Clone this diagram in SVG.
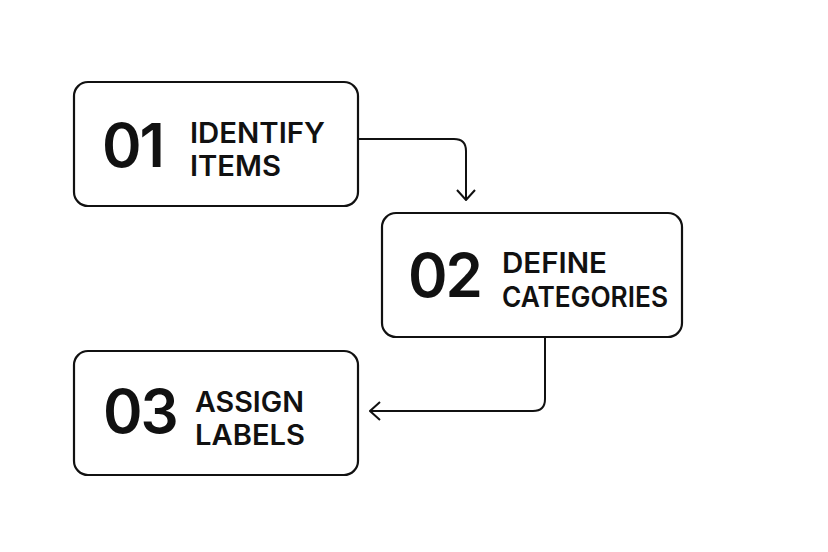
<svg xmlns="http://www.w3.org/2000/svg" width="828" height="552" viewBox="0 0 828 552">
<style>
.box{fill:#fff;stroke:#111;stroke-width:2.2}
.num{font-family:Inter,"Liberation Sans",Arial,sans-serif;font-weight:600;font-size:60px;fill:#111;letter-spacing:-2px}
.lbl{font-family:Inter,"Liberation Sans",Arial,sans-serif;font-weight:600;font-size:28px;fill:#111}
.conn{fill:none;stroke:#111;stroke-width:2}
</style>
<defs>
<marker id="chev" viewBox="0 0 12 20" refX="11" refY="10" markerWidth="12" markerHeight="20" markerUnits="userSpaceOnUse" orient="auto">
<path d="M1,1 L11,10 L1,19" fill="none" stroke="#111" stroke-width="2"/>
</marker>
</defs>
<rect width="828" height="552" fill="#fff"/>
<g id="connectors">
<path class="conn" d="M358,139 H454 Q466,139 466,151 V200" marker-end="url(#chev)"/>
<path class="conn" d="M545,337 V399 Q545,411 533,411 H370" marker-end="url(#chev)"/>
</g>
<g id="node1">
<rect class="box" x="74" y="82" width="284" height="124" rx="14"/>
<text class="num" x="102" y="167">01</text>
<text class="lbl" x="190" y="143" textLength="135" lengthAdjust="spacingAndGlyphs">IDENTIFY</text>
<text class="lbl" x="190" y="176" textLength="91" lengthAdjust="spacingAndGlyphs">ITEMS</text>
</g>
<g id="node2">
<rect class="box" x="382" y="213" width="300" height="124" rx="14"/>
<text class="num" x="408" y="297">02</text>
<text class="lbl" x="502" y="273" textLength="105" lengthAdjust="spacingAndGlyphs">DEFINE</text>
<text class="lbl" x="502" y="307" textLength="166" lengthAdjust="spacingAndGlyphs">CATEGORIES</text>
</g>
<g id="node3">
<rect class="box" x="74" y="351" width="284" height="124" rx="14"/>
<text class="num" x="103" y="433">03</text>
<text class="lbl" x="195" y="412" textLength="109" lengthAdjust="spacingAndGlyphs">ASSIGN</text>
<text class="lbl" x="195" y="445" textLength="110" lengthAdjust="spacingAndGlyphs">LABELS</text>
</g>
</svg>
